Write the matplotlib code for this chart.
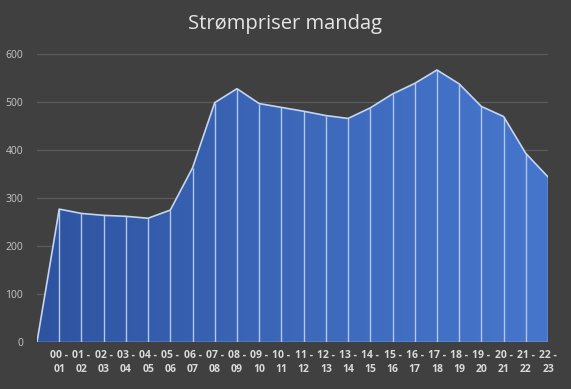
import matplotlib
matplotlib.use("Agg")
import matplotlib.pyplot as plt
import numpy as np
from matplotlib.colors import LinearSegmentedColormap

categories = ["", "00 - 01", "01 - 02", "02 - 03", "03 - 04", "04 - 05", "05 - 06",
              "06 - 07", "07 - 08", "08 - 09", "09 - 10", "10 - 11", "11 - 12",
              "12 - 13", "13 - 14", "14 - 15", "15 - 16", "16 - 17", "17 - 18",
              "18 - 19", "19 - 20", "20 - 21", "21 - 22", "22 - 23"]
values = [0, 277, 268, 264, 262, 258, 275, 363, 499, 528, 497, 489, 481, 472, 466,
          488, 517, 539, 567, 538, 491, 470, 393, 344]
yticks = [0, 100, 200, 300, 400, 500, 600]

bg = "#404040"
fig = plt.figure(figsize=(5.71, 3.89), dpi=100, facecolor=bg)
ax = fig.add_axes([0.0648, 0.1208, 0.895, 0.740])
ax.set_facecolor(bg)

x = np.arange(len(values))
ax.set_xlim(0, len(values) - 1)
ax.set_ylim(0, 600)

for t in yticks[1:]:
    ax.axhline(t, color="#5c5c5c", lw=0.9, zorder=0)

poly = ax.fill_between(x, values, 0, color="none", lw=0, zorder=1)
cmap = LinearSegmentedColormap.from_list("g", ["#2E53A0", "#3D68BA", "#4676CC"])
grad = np.linspace(0, 1, 256).reshape(1, -1)
im = ax.imshow(grad, cmap=cmap, aspect="auto", extent=[0, len(values) - 1, 0, 600],
               zorder=1, interpolation="bicubic")
path = poly.get_paths()[0]
im.set_clip_path(path, transform=ax.transData)

ax.vlines(x[1:], 0, values[1:], color="#AFC8EE", lw=1.0, zorder=2)
ax.plot(x, values, color="#C3D5F0", lw=1.2, zorder=3)
ax.axhline(0, color="#AFC8EE", lw=1.0, zorder=3)

for s in ax.spines.values():
    s.set_visible(False)
ax.set_yticks(yticks)
ax.set_yticklabels([str(t) for t in yticks], color="#C8C8C8", fontsize=7.5, fontfamily="Open Sans")
ax.tick_params(axis="y", length=0, pad=10)
ax.set_xticks(x[1:])
ax.set_xticklabels([c.replace(" - ", " -\n") if c else c for c in categories[1:]],
                   color="#D9D9D9", fontsize=7.5, fontweight="bold", fontfamily="Open Sans",
                   linespacing=1.35)
ax.tick_params(axis="x", length=0, pad=6)

fig.text(0.5, 0.938, "Strømpriser mandag", ha="center", va="center",
         color="#E6E6E6", fontsize=14.5, fontfamily="Open Sans")

fig.savefig("out.png", dpi=100, facecolor=bg)
